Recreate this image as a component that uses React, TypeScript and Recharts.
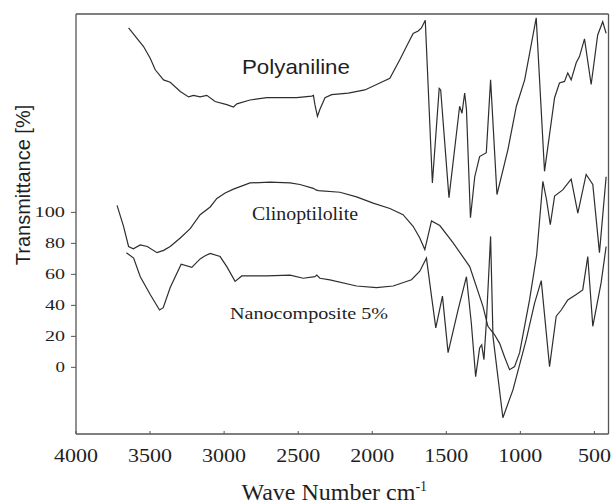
import { Line, LineChart, ReferenceDot, ReferenceLine, XAxis, YAxis } from "recharts";

// FTIR spectra (wave number cm-1 / transmittance %)
const polyWn = [3645, 3544, 3499, 3465, 3409, 3364, 3296, 3240, 3207, 3162, 3117, 3061, 2982, 2937, 2914, 2825, 2712, 2623, 2510, 2409, 2397, 2387, 2370, 2353, 2319, 2274, 2162, 2050, 1949, 1881, 1814, 1769, 1724, 1690, 1668, 1642, 1594, 1548, 1538, 1482, 1410, 1394, 1376, 1364, 1337, 1308, 1275, 1230, 1201, 1158, 1084, 1027, 971, 893, 837, 769, 736, 702, 680, 657, 623, 601, 567, 522, 478, 444, 421];
const polyT = [219, 207, 199.5, 192, 185.5, 184, 178, 174.5, 175.5, 174.5, 175.5, 171.5, 169.5, 168, 170, 172.5, 174, 174, 174, 175, 175.5, 169.5, 162, 166.5, 174, 176, 177, 179, 183.5, 186.5, 198.5, 207, 215.5, 217, 219, 224, 119, 180, 179, 109.5, 168.5, 164, 177, 166.5, 96.5, 123, 136, 138.5, 185.5, 111.5, 140.5, 168.5, 185.5, 225.5, 126.5, 174, 183.5, 184.5, 190, 185.5, 196.5, 200.5, 212, 182.5, 214.5, 223, 215.5];

const clinoWn = [3723, 3679, 3645, 3613, 3566, 3519, 3453, 3409, 3364, 3296, 3229, 3162, 3094, 3049, 2993, 2937, 2825, 2690, 2555, 2488, 2398, 2380, 2364, 2218, 2106, 1994, 1881, 1792, 1724, 1679, 1645, 1600, 1544, 1455, 1342, 1253, 1219, 1174, 1140, 1106, 1073, 1039, 1005, 938, 890, 848, 823, 798, 769, 714, 657, 612, 556, 511, 466, 421];
const clinoT = [104.5, 91, 78, 76.5, 79, 78, 74, 75.5, 78, 83.5, 89.5, 98.5, 103.5, 109, 112.5, 115, 119, 119.5, 119, 118, 115.5, 114.5, 114, 113, 110, 106, 102.5, 98.5, 91, 83.5, 76, 94.5, 91.5, 80.5, 65, 39.5, 26.5, 21, 15.5, 6.5, -1.5, 0.5, 9.5, 43.5, 72.5, 120, 108, 92, 110.5, 114.5, 121.5, 99.5, 124.5, 118, 74, 123];

const nanoWn = [3660, 3611, 3566, 3499, 3436, 3411, 3364, 3290, 3218, 3162, 3128, 3094, 3027, 2982, 2926, 2881, 2712, 2555, 2466, 2387, 2375, 2353, 2286, 2106, 1971, 1859, 1735, 1679, 1634, 1600, 1571, 1526, 1488, 1421, 1364, 1331, 1302, 1275, 1261, 1246, 1230, 1201, 1185, 1118, 1050, 960, 904, 859, 803, 758, 724, 680, 623, 579, 545, 511, 455, 421];
const nanoT = [74, 70.5, 58.5, 47, 37, 38.5, 51.5, 66.5, 64.5, 70, 72, 73.5, 71.5, 65, 55.5, 59, 59, 59.5, 57.5, 58.5, 59.5, 57.5, 56.5, 52.5, 51.5, 52.5, 56.5, 62, 70.5, 46, 25.5, 46, 9.5, 37, 58.5, 28.5, -6, 12.5, 14.5, 5, 28.5, 84.5, 20, -32.5, -14.5, 18, 41.5, 56, 0.5, 33, 37, 43.5, 47, 50, 71.5, 26.5, 54.5, 78];

const xTicks = [4000, 3500, 3000, 2500, 2000, 1500, 1000, 500];
const yTicks = [0, 20, 40, 60, 80, 100];

const X_MIN = 405;
const X_MAX = 4000;
const Y_MIN = -43;
const Y_MAX = 228;

const SERIF = "'Liberation Serif', 'Times New Roman', serif";
const SANS = "'Liberation Sans', Arial, sans-serif";
const INK = "#1f1f1f";
const LINE = "#2e2e2e";
const FRAME = "#555";

const toPoints = (wn: number[], t: number[]) => wn.map((w, i) => ({ wn: w, t: t[i] }));

const polyData = toPoints(polyWn, polyT);
const clinoData = toPoints(clinoWn, clinoT);
const nanoData = toPoints(nanoWn, nanoT);

const XTick = (props: any) => {
  const { x, y, payload } = props;
  const label = String(payload.value);
  return (
    <g>
      <line x1={x} x2={x} y1={y} y2={y - 3} stroke={FRAME} />
      <text
        x={x}
        y={y + 28}
        textAnchor="middle"
        fontFamily={SERIF}
        fontSize={19}
        fill={INK}
        textLength={label.length * 11}
        lengthAdjust="spacingAndGlyphs"
      >
        {label}
      </text>
    </g>
  );
};

const YTick = (props: any) => {
  const { x, y, payload } = props;
  const label = String(payload.value);
  return (
    <text
      x={x}
      y={y + 5}
      textAnchor="end"
      fontFamily={SERIF}
      fontSize={15}
      fill={INK}
      textLength={label.length * 10.5 - 1}
      lengthAdjust="spacingAndGlyphs"
    >
      {label}
    </text>
  );
};

const tag = (text: string, font: string, size: number, len: number) => (props: any) => {
  const vb = props.viewBox || { x: 0, y: 0, width: 0, height: 0 };
  return (
    <text
      x={vb.x + vb.width / 2}
      y={vb.y + vb.height / 2}
      textAnchor="middle"
      fontFamily={font}
      fontSize={size}
      fill={INK}
      textLength={len}
      lengthAdjust="spacingAndGlyphs"
    >
      {text}
    </text>
  );
};

const xTitle = (props: any) => {
  const vb = props.viewBox || { x: 76, y: 434, width: 532, height: 70 };
  return (
    <text x={vb.x + vb.width / 2 - 8} y={vb.y + 66} textAnchor="middle" fontFamily={SERIF} fontSize={24} fill={INK}>
      Wave Number cm
      <tspan fontSize={14} dy={-9}>-1</tspan>
    </text>
  );
};

const yTitle = (props: any) => {
  const vb = props.viewBox || { x: 0, y: 14, width: 76, height: 420 };
  const cx = vb.x + 23;
  const cy = vb.y + 171;
  return (
    <text
      x={cx}
      y={cy}
      transform={`rotate(-90 ${cx} ${cy})`}
      textAnchor="middle"
      dominantBaseline="central"
      fontFamily={SANS}
      fontSize={20}
      fill={INK}
    >
      Transmittance [%]
    </text>
  );
};

export default function App() {
  return (
    <div style={{ position: "absolute", left: 0, top: 0, width: 614, height: 504, background: "#fff" }}>
      <LineChart width={614} height={504} margin={{ top: 14, right: 5.5, left: 0, bottom: 0 }}>
        <XAxis
          type="number"
          dataKey="wn"
          domain={[X_MIN, X_MAX]}
          reversed
          ticks={xTicks}
          interval={0}
          height={70}
          tickSize={0}
          tickMargin={0}
          tickLine={false}
          tick={<XTick />}
          axisLine={{ stroke: FRAME, strokeWidth: 1.3 }}
          label={xTitle}
        />
        <YAxis
          type="number"
          domain={[Y_MIN, Y_MAX]}
          ticks={yTicks}
          interval={0}
          width={76}
          tickSize={5}
          tickMargin={6}
          tickLine={{ stroke: FRAME }}
          tick={<YTick />}
          axisLine={{ stroke: FRAME, strokeWidth: 1.3 }}
          label={yTitle}
        />
        <ReferenceLine y={Y_MAX} stroke={FRAME} strokeWidth={1.3} />
        <ReferenceLine x={X_MIN} stroke={FRAME} strokeWidth={1.3} />
        <Line data={polyData} dataKey="t" type="linear" dot={false} stroke={LINE} strokeWidth={1.2} isAnimationActive={false} />
        <Line data={clinoData} dataKey="t" type="linear" dot={false} stroke={LINE} strokeWidth={1.2} isAnimationActive={false} />
        <Line data={nanoData} dataKey="t" type="linear" dot={false} stroke={LINE} strokeWidth={1.2} isAnimationActive={false} />
        <ReferenceDot x={2515} y={189.6} r={1} fill="none" stroke="none" label={tag("Polyaniline", SANS, 21, 108)} />
        <ReferenceDot x={2454} y={95.1} r={1} fill="none" stroke="none" label={tag("Clinoptilolite", SERIF, 18, 106)} />
        <ReferenceDot x={2427} y={31} r={1} fill="none" stroke="none" label={tag("Nanocomposite 5%", SERIF, 17, 158)} />
      </LineChart>
    </div>
  );
}
